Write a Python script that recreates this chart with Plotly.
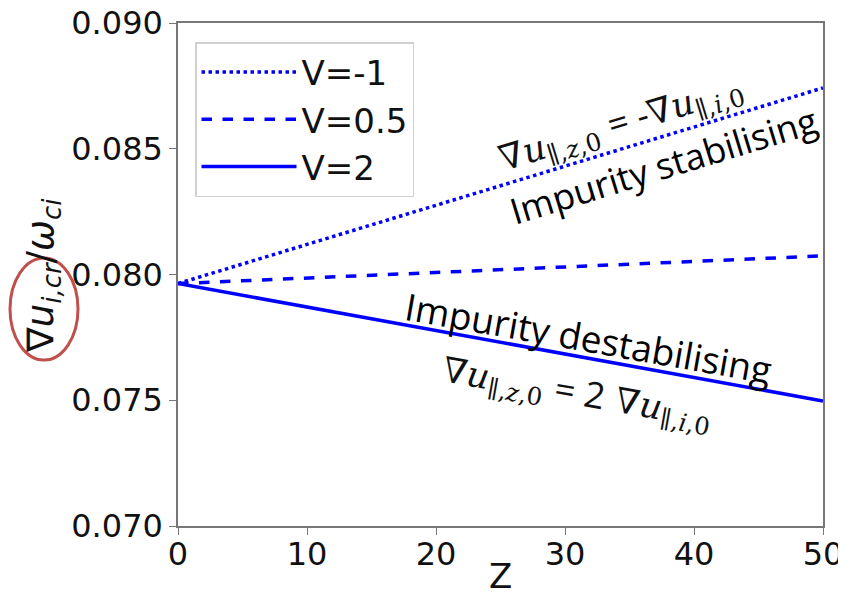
import plotly.graph_objects as go

Z = [0, 50]
v_labels = ["V=-1", "V=0.5", "V=2"]
v_m1 = [0.07964, 0.08742]
v_05 = [0.07964, 0.08074]
v_2 = [0.07964, 0.07497]
dashes = ["dot", "dash", "solid"]
widths = [3.5, 3.5, 3.5]

x_ticks = [0, 10, 20, 30, 40, 50]
y_ticks = [0.070, 0.075, 0.080, 0.085, 0.090]

fig = go.Figure()
for name, ys, d, w in zip(v_labels, [v_m1, v_05, v_2], dashes, widths):
    fig.add_trace(go.Scatter(x=Z, y=ys, mode="lines", name=name,
                             line=dict(color="#0000ff", dash=d, width=w)))

OFF = 8  # page body margin
W, H = 846, 600
# target plot box in screen pixels
X0, X1, Y0, Y1 = 178, 823, 23, 526
L, T = X0 - OFF, Y0 - OFF
R, B = W - (X1 - OFF), H - (Y1 - OFF)
pw, ph = X1 - X0, Y1 - Y0

def px(xp):
    return (xp - X0) / pw

def py(yp):
    return (Y1 - yp) / ph

axis_common = dict(showgrid=False, zeroline=False, showline=True, mirror=True,
                   linecolor="#777", linewidth=1.5, ticks="outside", ticklen=7,
                   tickcolor="#777", automargin=False, ticklabeloverflow="allow",
                   tickfont=dict(size=32, color="#111", family="DejaVu Sans"))
fig.update_xaxes(range=[0, 50], tickvals=x_ticks, ticklabelstandoff=-8, **axis_common)
fig.update_yaxes(range=[0.070, 0.090], tickvals=y_ticks, tickformat=".3f",
                 **axis_common)

sans = "Open Sans"
serif = "DejaVu Serif"
eq = '<span style="font-family:Open Sans;font-size:36px">%s</span>'
fig.add_annotation(xref="paper", yref="paper", x=px(500), y=py(576), showarrow=False,
                   text="Z", xanchor="center", yanchor="middle",
                   font=dict(size=34, family="DejaVu Sans", color="#111"))
fig.add_annotation(xref="paper", yref="paper", x=px(43), y=py(276), showarrow=False,
                   textangle=-90, xanchor="center", yanchor="middle",
                   text="∇<i>u</i><sub><i>i,cr</i></sub>/<i>ω</i><sub><i>ci</i></sub>",
                   font=dict(size=37, family="DejaVu Sans", color="#111"))
fig.add_shape(type="circle", xref="paper", yref="paper",
              x0=px(10), x1=px(78), y0=py(360), y1=py(258),
              line=dict(color="#c0504d", width=3))

fig.add_annotation(x=37.6, y=0.08434, showarrow=False, textangle=-17,
                   text="Impurity stabilising",
                   font=dict(size=36, family=sans, color="#000"))
fig.add_annotation(x=34.26, y=0.08606, showarrow=False, textangle=-17,
                   text="∇<i>u</i><sub>∥,<i>z</i>,0</sub> " + eq % "= -" +
                        "∇<i>u</i><sub>∥,<i>i</i>,0</sub>",
                   font=dict(size=35, family=serif, color="#111"))
fig.add_annotation(x=31.86, y=0.07748, showarrow=False, textangle=10,
                   text="Impurity destabilising",
                   font=dict(size=37, family=sans, color="#000"))
fig.add_annotation(x=31.0, y=0.07529, showarrow=False, textangle=10,
                   text="∇<i>u</i><sub>∥,<i>z</i>,0</sub> " + eq % "= 2" +
                        " ∇<i>u</i><sub>∥,<i>i</i>,0</sub>",
                   font=dict(size=35, family=serif, color="#111"))

fig.update_layout(
    width=W, height=H, margin=dict(l=L, r=R, t=T, b=B),
    paper_bgcolor="white", plot_bgcolor="white",
    legend=dict(x=px(195), y=py(42), xanchor="left", yanchor="top",
                bgcolor="white", bordercolor="#d0d0d0", borderwidth=1.5,
                font=dict(size=34, family="DejaVu Sans", color="#111"),
                itemwidth=95),
)

fig.write_html("out.html")
